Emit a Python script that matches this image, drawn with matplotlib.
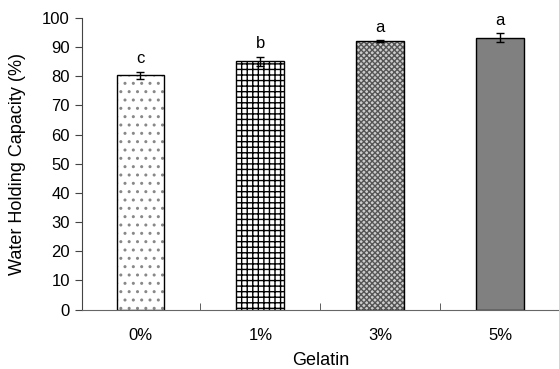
import matplotlib
matplotlib.use("Agg")
import matplotlib.pyplot as plt

plt.rcParams['font.family'] = ['Liberation Sans', 'DejaVu Sans']

# data
groups = ['0%', '1%', '3%', '5%']
whc = [80.3, 85.1, 92.0, 93.2]
err = [1.1, 1.6, 0.3, 1.5]
letters = ['c', 'b', 'a', 'a']

hatches = ['..', '+++', 'xxxxxx', '']
hatch_colors = ['#888888', '#000000', '#555555', '#808080']
faces = ['white', 'white', '#cccccc', '#808080']

fig = plt.figure(figsize=(5.59, 3.69), dpi=100)
ax = fig.add_axes([0.1462, 0.1612, 0.8538, 0.79])

x = range(len(groups))
plt.rcParams['hatch.linewidth'] = 1.0
for i in x:
    ax.bar(i, whc[i], width=0.4, color=faces[i], hatch=hatches[i],
           edgecolor=hatch_colors[i], linewidth=0)
    ax.bar(i, whc[i], width=0.4, fill=False, edgecolor='black', linewidth=1.0)
ax.errorbar(list(x), whc, yerr=err, fmt='none', ecolor='black',
            elinewidth=1.0, capsize=3, capthick=1.0)
for i in x:
    ax.text(i, whc[i] + err[i] + 2.0, letters[i], ha='center', va='bottom', fontsize=12)

ax.set_xlim(-0.49, 3.49)
ax.set_ylim(0, 100)
ax.set_yticks(range(0, 101, 10))
ax.set_xticks(list(x))
ax.set_xticklabels(groups)
ax.set_xticks([0.5, 1.5, 2.5], minor=True)
ax.tick_params(axis='x', which='major', length=0, pad=13, labelsize=12)
ax.tick_params(axis='x', which='minor', direction='in', length=5, color='#444444')
ax.tick_params(axis='y', direction='out', length=5, labelsize=12, color='#444444')

for s in ['top', 'right']:
    ax.spines[s].set_visible(False)
ax.spines['left'].set_color('#444444')
ax.spines['bottom'].set_color('#666666')

ax.set_xlabel('Gelatin', fontsize=13, labelpad=7)
ax.set_ylabel('Water Holding Capacity (%)', fontsize=13, labelpad=12)

fig.savefig('out.png', dpi=100)
